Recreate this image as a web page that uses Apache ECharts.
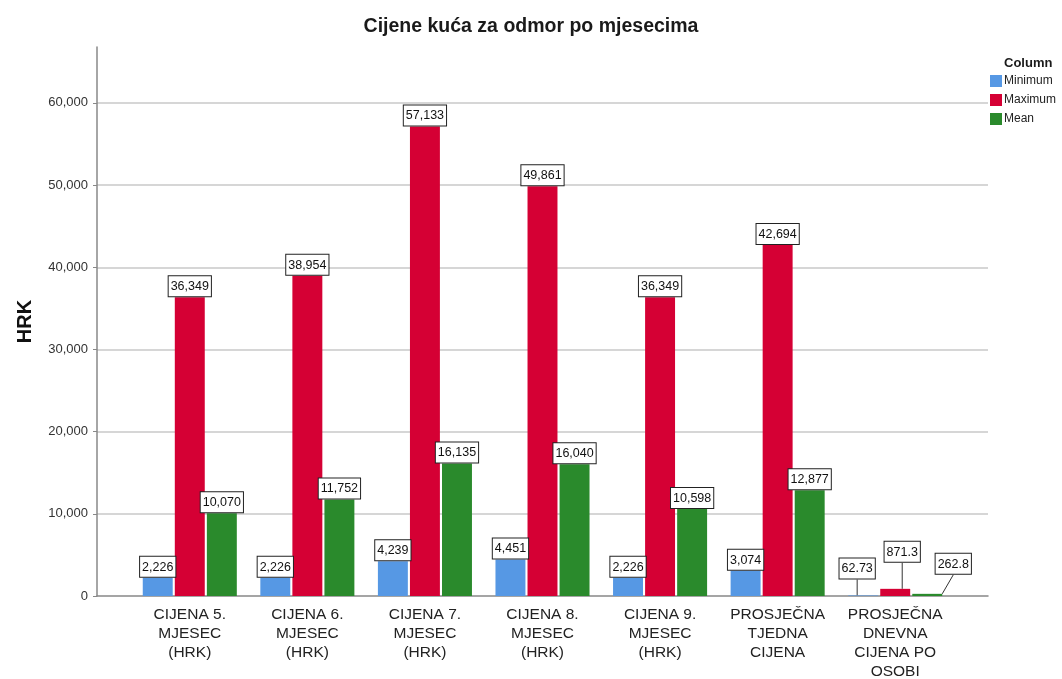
<!DOCTYPE html>
<html>
<head>
<meta charset="utf-8">
<script src="https://cdn.jsdelivr.net/npm/echarts@6/dist/echarts.min.js"></script>
<style>
  html, body { margin: 0; padding: 0; background: #fff; }
  #chart { width: 1062px; height: 679px; }
</style>
</head>
<body>
<div id="chart"></div>
<script>
// podaci
const categories = [
  'CIJENA 5.\nMJESEC\n(HRK)',
  'CIJENA 6.\nMJESEC\n(HRK)',
  'CIJENA 7.\nMJESEC\n(HRK)',
  'CIJENA 8.\nMJESEC\n(HRK)',
  'CIJENA 9.\nMJESEC\n(HRK)',
  'PROSJEČNA\nTJEDNA\nCIJENA',
  'PROSJEČNA\nDNEVNA\nCIJENA PO\nOSOBI'
];
const minimum = [2226, 2226, 4239, 4451, 2226, 3074, 62.73];
const maximum = [36349, 38954, 57133, 49861, 36349, 42694, 871.3];
const mean = [10070, 11752, 16135, 16040, 10598, 12877, 262.8];
const yTicks = [0, 10000, 20000, 30000, 40000, 50000, 60000];

const yMax = 66800;
const font = 'Arial, "Liberation Sans", sans-serif';

// pomak natpisa za zadnju kategoriju (male vrijednosti)
const lastShift = {
  Minimum: { dx: -6, dy: -16 },
  Maximum: { dx: 7, dy: -26 },
  Mean: { dx: 26, dy: -19 }
};

function fmt(v) {
  return v.toLocaleString('en-US', { maximumFractionDigits: 2 });
}

function makeSeries(name, data, color) {
  return {
    name: name,
    type: 'bar',
    xAxisIndex: 1,
    yAxisIndex: 1,
    data: data,
    barGap: '7%',
    barCategoryGap: '20%',
    itemStyle: { color: color },
    label: {
      show: true,
      position: 'top',
      distance: 1,
      formatter: p => fmt(p.value),
      fontFamily: font,
      fontSize: 12.5,
      color: '#111',
      backgroundColor: '#fff',
      borderColor: '#222',
      borderWidth: 1,
      padding: [4, 2, 3, 2]
    },
    labelLine: { show: true, lineStyle: { color: '#333', width: 1 } },
    labelLayout: p => p.dataIndex === data.length - 1 ? lastShift[name] : {}
  };
}

const chart = echarts.init(document.getElementById('chart'));
chart.setOption({
  animation: false,
  backgroundColor: '#fff',
  title: [
    {
      text: 'Cijene kuća za odmor po mjesecima',
      left: 'center',
      top: 12,
      textStyle: { fontFamily: font, fontSize: 19.5, fontWeight: 'bold', color: '#1a1a1a' }
    },
    {
      text: 'Column',
      left: 999,
      top: 52,
      textStyle: { fontFamily: font, fontSize: 13, fontWeight: 'bold', color: '#1a1a1a' }
    }
  ],
  legend: {
    orient: 'vertical',
    left: 985,
    top: 70,
    icon: 'rect',
    itemWidth: 12,
    itemHeight: 12,
    itemGap: 7,
    textStyle: { fontFamily: font, fontSize: 12, color: '#222', padding: [0, 0, 0, -3] },
    data: ['Minimum', 'Maximum', 'Mean']
  },
  grid: [
    { left: 97, right: 74, top: 47, bottom: 83, outerBoundsMode: 'none' },
    { left: 131, right: 108, top: 47, bottom: 83, outerBoundsMode: 'none' }
  ],
  xAxis: [
    {
      type: 'value',
      gridIndex: 0,
      min: 0,
      max: 1,
      axisLine: { show: true, lineStyle: { color: '#888', width: 1.5 } },
      axisTick: { show: false },
      axisLabel: { show: false },
      splitLine: { show: false }
    },
    {
      type: 'category',
      gridIndex: 1,
      data: categories,
      axisLine: { show: false },
      axisTick: { show: false },
      axisLabel: {
        interval: 0,
        margin: 9,
        fontFamily: font,
        fontSize: 15.5,
        lineHeight: 19,
        color: '#222'
      }
    }
  ],
  yAxis: [
    {
      type: 'value',
      gridIndex: 0,
      min: 0,
      max: yMax,
      interval: yTicks[1] - yTicks[0],
      name: 'HRK',
      nameLocation: 'middle',
      nameGap: 62,
      nameTextStyle: { fontFamily: font, fontSize: 20, fontWeight: 'bold', color: '#111' },
      axisLine: { show: true, lineStyle: { color: '#888', width: 1.5 } },
      axisTick: { show: true, length: 4, lineStyle: { color: '#888' } },
      axisLabel: {
        showMaxLabel: false,
        margin: 9,
        fontFamily: font,
        fontSize: 13,
        color: '#333',
        formatter: v => fmt(v)
      },
      splitLine: { show: true, showMaxLine: false, showMinLine: false, lineStyle: { color: '#c8c8c8', width: 1.5 } }
    },
    {
      type: 'value',
      gridIndex: 1,
      min: 0,
      max: yMax,
      show: false,
      splitLine: { show: false }
    }
  ],
  series: [
    makeSeries('Minimum', minimum, '#5698e4'),
    makeSeries('Maximum', maximum, '#d50034'),
    makeSeries('Mean', mean, '#2a8a2c')
  ]
});
</script>
</body>
</html>
